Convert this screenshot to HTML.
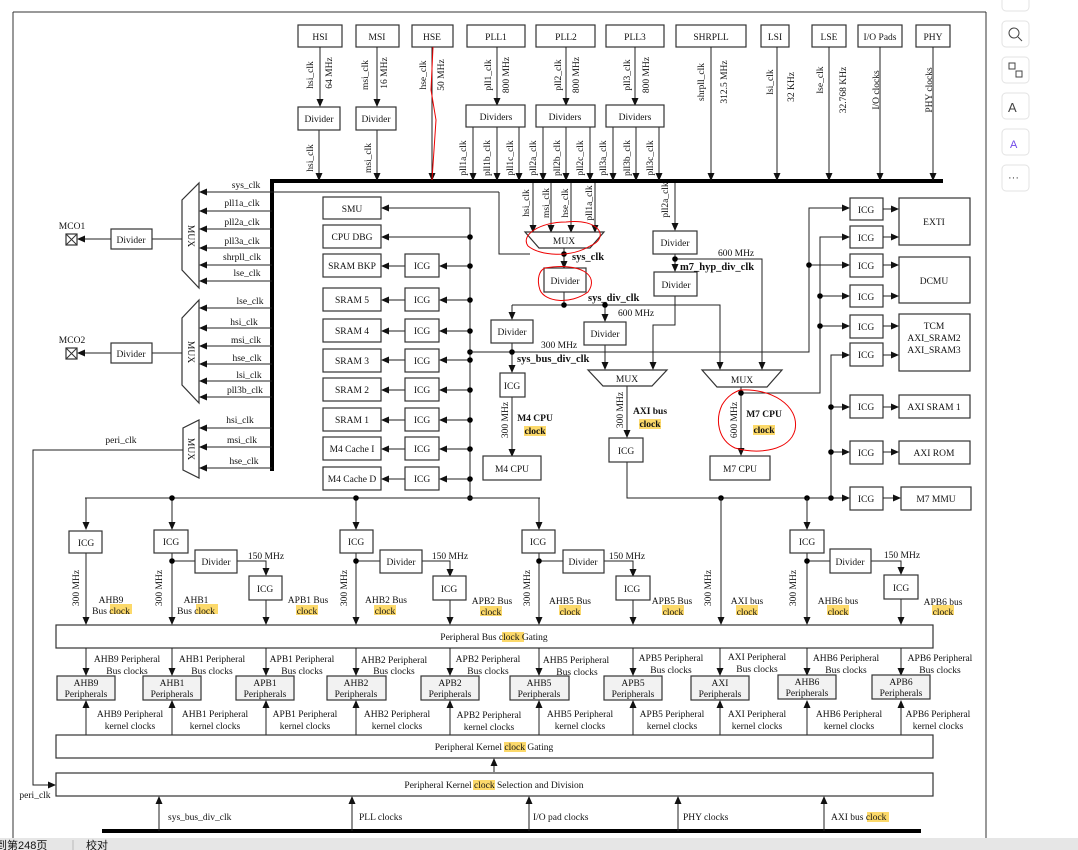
<!DOCTYPE html>
<html><head><meta charset="utf-8"><style>
html,body{margin:0;padding:0;background:#fff;}
svg{display:block;font-family:"Liberation Serif","Noto Serif CJK SC",serif;}
text{font-size:9.5px;fill:#111;}
.b{fill:#fff;stroke:#333;stroke-width:1.2;}
.g{fill:#f2f2f2;stroke:#333;stroke-width:1.2;}
.l{stroke:#222;stroke-width:1;fill:none;}
.t{stroke:#000;stroke-width:4;}
.hl{fill:#fcd96a;}
.bd{font-weight:bold;font-size:10.5px;}
.r{stroke:#e00;stroke-width:1;fill:none;}
</style></head><body>
<svg width="1078" height="850" viewBox="0 0 1078 850" xmlns="http://www.w3.org/2000/svg">
<defs>
<marker id="a" markerWidth="8" markerHeight="8" refX="7" refY="4" orient="auto" markerUnits="userSpaceOnUse"><path d="M0,0.5 L8,4 L0,7.5z" fill="#111"/></marker>
</defs>
<line x1="13" y1="12" x2="13" y2="838" stroke="#333"/>
<line x1="13" y1="12" x2="986" y2="12" stroke="#333"/>
<line x1="986" y1="12" x2="986" y2="838" stroke="#333"/>
<rect x="0" y="838" width="1078" height="12" fill="#e6e6e6"/>
<text x="-4" y="849" style="font-family:'Liberation Sans','Noto Sans CJK SC',sans-serif;font-size:11px">到第248页</text>
<line x1="73" y1="840" x2="73" y2="850" stroke="#bbb"/>
<text x="86" y="849" style="font-family:'Liberation Sans','Noto Sans CJK SC',sans-serif;font-size:11px">校对</text>
<g fill="#fff" stroke="#e3e3e3">
<rect x="1002" y="-8" width="27" height="19" rx="4"/><rect x="1002" y="21" width="27" height="26" rx="4"/><rect x="1002" y="57" width="27" height="26" rx="4"/><rect x="1002" y="93" width="27" height="26" rx="4"/><rect x="1002" y="129" width="27" height="26" rx="4"/><rect x="1002" y="165" width="27" height="26" rx="4"/></g>
<g stroke="#444" fill="none" stroke-width="1"><circle cx="1014" cy="33" r="5"/><line x1="1018" y1="37" x2="1022" y2="41"/><rect x="1009" y="63" width="6" height="6"/><rect x="1016" y="71" width="6" height="6"/></g>
<text x="1008" y="112" style="font-family:'Liberation Sans',sans-serif;font-size:13px;fill:#444">A</text>
<text x="1010" y="148" style="font-family:'Liberation Sans',sans-serif;font-size:11px;fill:#7048e8">A</text>
<text x="1008" y="181" style="font-family:'Liberation Sans',sans-serif;font-size:11px;fill:#444">···</text>

<line class="t" x1="270" y1="181" x2="943" y2="181"/>
<line class="t" x1="272" y1="179" x2="272" y2="471"/>
<line x1="102" y1="831" x2="921" y2="831" stroke="#000" stroke-width="4"/>

<g>
<rect class="b" x="298" y="25" width="44" height="22"/><text x="320" y="40" text-anchor="middle">HSI</text>
<rect class="b" x="356" y="25" width="43" height="22"/><text x="377" y="40" text-anchor="middle">MSI</text>
<rect class="b" x="412" y="25" width="41" height="22"/><text x="432" y="40" text-anchor="middle">HSE</text>
<rect class="b" x="467" y="25" width="58" height="22"/><text x="496" y="40" text-anchor="middle">PLL1</text>
<rect class="b" x="536" y="25" width="59" height="22"/><text x="566" y="40" text-anchor="middle">PLL2</text>
<rect class="b" x="606" y="25" width="58" height="22"/><text x="635" y="40" text-anchor="middle">PLL3</text>
<rect class="b" x="676" y="25" width="70" height="22"/><text x="711" y="40" text-anchor="middle">SHRPLL</text>
<rect class="b" x="761" y="25" width="28" height="22"/><text x="775" y="40" text-anchor="middle">LSI</text>
<rect class="b" x="812" y="25" width="34" height="22"/><text x="829" y="40" text-anchor="middle">LSE</text>
<rect class="b" x="858" y="25" width="44" height="22"/><text x="880" y="40" text-anchor="middle">I/O Pads</text>
<rect class="b" x="916" y="25" width="34" height="22"/><text x="933" y="40" text-anchor="middle">PHY</text>
</g>
<g class="l">
<line x1="320" y1="47" x2="320" y2="106" marker-end="url(#a)"/>
<line x1="377" y1="47" x2="377" y2="106" marker-end="url(#a)"/>
<line x1="432" y1="47" x2="432" y2="180" marker-end="url(#a)"/>
<line x1="497" y1="47" x2="497" y2="105" marker-end="url(#a)"/>
<line x1="566" y1="47" x2="566" y2="105" marker-end="url(#a)"/>
<line x1="635" y1="47" x2="635" y2="105" marker-end="url(#a)"/>
<line x1="711" y1="47" x2="711" y2="180" marker-end="url(#a)"/>
<line x1="777" y1="47" x2="777" y2="180" marker-end="url(#a)"/>
<line x1="829" y1="47" x2="829" y2="180" marker-end="url(#a)"/>
<line x1="880" y1="47" x2="880" y2="180" marker-end="url(#a)"/>
<line x1="933" y1="47" x2="933" y2="180" marker-end="url(#a)"/>
<line x1="319" y1="130" x2="319" y2="180" marker-end="url(#a)"/>
<line x1="377" y1="130" x2="377" y2="180" marker-end="url(#a)"/>
<line x1="473" y1="127" x2="473" y2="180" marker-end="url(#a)"/>
<line x1="497" y1="127" x2="497" y2="180" marker-end="url(#a)"/>
<line x1="519" y1="127" x2="519" y2="180" marker-end="url(#a)"/>
<line x1="543" y1="127" x2="543" y2="180" marker-end="url(#a)"/>
<line x1="566" y1="127" x2="566" y2="180" marker-end="url(#a)"/>
<line x1="590" y1="127" x2="590" y2="180" marker-end="url(#a)"/>
<line x1="613" y1="127" x2="613" y2="180" marker-end="url(#a)"/>
<line x1="636" y1="127" x2="636" y2="180" marker-end="url(#a)"/>
<line x1="659" y1="127" x2="659" y2="180" marker-end="url(#a)"/>
</g>
<rect class="b" x="298" y="107" width="42" height="23"/><text x="319" y="122" text-anchor="middle">Divider</text>
<rect class="b" x="356" y="107" width="40" height="23"/><text x="376" y="122" text-anchor="middle">Divider</text>
<rect class="b" x="466" y="105" width="59" height="22"/><text x="496" y="120" text-anchor="middle">Dividers</text>
<rect class="b" x="536" y="105" width="59" height="22"/><text x="565" y="120" text-anchor="middle">Dividers</text>
<rect class="b" x="606" y="105" width="58" height="22"/><text x="635" y="120" text-anchor="middle">Dividers</text>
<g style="font-size:9px">
<text transform="translate(313,75) rotate(-90)" text-anchor="middle">hsi_clk</text>
<text transform="translate(332,73) rotate(-90)" text-anchor="middle">64 MHz</text>
<text transform="translate(368,75) rotate(-90)" text-anchor="middle">msi_clk</text>
<text transform="translate(387,73) rotate(-90)" text-anchor="middle">16 MHz</text>
<text transform="translate(426,75) rotate(-90)" text-anchor="middle">hse_clk</text>
<text transform="translate(444,75) rotate(-90)" text-anchor="middle">50 MHz</text>
<text transform="translate(491,75) rotate(-90)" text-anchor="middle">pll1_clk</text>
<text transform="translate(509,75) rotate(-90)" text-anchor="middle">800 MHz</text>
<text transform="translate(561,75) rotate(-90)" text-anchor="middle">pll2_clk</text>
<text transform="translate(579,75) rotate(-90)" text-anchor="middle">800 MHz</text>
<text transform="translate(630,75) rotate(-90)" text-anchor="middle">pll3_clk</text>
<text transform="translate(649,75) rotate(-90)" text-anchor="middle">800 MHz</text>
<text transform="translate(704,82) rotate(-90)" text-anchor="middle">shrpll_clk</text>
<text transform="translate(727,82) rotate(-90)" text-anchor="middle">312.5 MHz</text>
<text transform="translate(773,82) rotate(-90)" text-anchor="middle">lsi_clk</text>
<text transform="translate(794,87) rotate(-90)" text-anchor="middle">32 KHz</text>
<text transform="translate(823,80) rotate(-90)" text-anchor="middle">lse_clk</text>
<text transform="translate(846,90) rotate(-90)" text-anchor="middle">32.768 KHz</text>
<text transform="translate(879,90) rotate(-90)" text-anchor="middle">I/O clocks</text>
<text transform="translate(932,90) rotate(-90)" text-anchor="middle">PHY clocks</text>
<text transform="translate(313,158) rotate(-90)" text-anchor="middle">hsi_clk</text>
<text transform="translate(371,158) rotate(-90)" text-anchor="middle">msi_clk</text>
<text transform="translate(466,158) rotate(-90)" text-anchor="middle">pll1a_clk</text>
<text transform="translate(490,158) rotate(-90)" text-anchor="middle">pll1b_clk</text>
<text transform="translate(513,158) rotate(-90)" text-anchor="middle">pll1c_clk</text>
<text transform="translate(536,158) rotate(-90)" text-anchor="middle">pll2a_clk</text>
<text transform="translate(560,158) rotate(-90)" text-anchor="middle">pll2b_clk</text>
<text transform="translate(583,158) rotate(-90)" text-anchor="middle">pll2c_clk</text>
<text transform="translate(606,158) rotate(-90)" text-anchor="middle">pll3a_clk</text>
<text transform="translate(630,158) rotate(-90)" text-anchor="middle">pll3b_clk</text>
<text transform="translate(653,158) rotate(-90)" text-anchor="middle">pll3c_clk</text>
<text transform="translate(529,203) rotate(-90)" text-anchor="middle">hsi_clk</text>
<text transform="translate(549,203) rotate(-90)" text-anchor="middle">msi_clk</text>
<text transform="translate(568,203) rotate(-90)" text-anchor="middle">hse_clk</text>
<text transform="translate(592,203) rotate(-90)" text-anchor="middle">pll1a_clk</text>
<text transform="translate(668,200) rotate(-90)" text-anchor="middle">pll2a_clk</text>
</g>

<path class="b" d="M199,183 L199,288 L182,270 L182,200 Z"/>
<text transform="translate(188,236) rotate(90)" text-anchor="middle">MUX</text>
<path class="b" d="M199,300 L199,403 L182,385 L182,318 Z"/>
<text transform="translate(188,352) rotate(90)" text-anchor="middle">MUX</text>
<path class="b" d="M199,420 L199,478 L183,470 L183,428 Z"/>
<text transform="translate(188,449) rotate(90)" text-anchor="middle">MUX</text>
<g class="l">
<line x1="499" y1="192" x2="200" y2="192" marker-end="url(#a)"/>
<line x1="272" y1="211" x2="200" y2="211" marker-end="url(#a)"/>
<line x1="272" y1="229" x2="200" y2="229" marker-end="url(#a)"/>
<line x1="272" y1="248" x2="200" y2="248" marker-end="url(#a)"/>
<line x1="272" y1="265" x2="200" y2="265" marker-end="url(#a)"/>
<line x1="272" y1="281" x2="200" y2="281" marker-end="url(#a)"/>
<line x1="272" y1="308" x2="200" y2="308" marker-end="url(#a)"/>
<line x1="272" y1="328" x2="200" y2="328" marker-end="url(#a)"/>
<line x1="272" y1="346" x2="200" y2="346" marker-end="url(#a)"/>
<line x1="272" y1="364" x2="200" y2="364" marker-end="url(#a)"/>
<line x1="272" y1="381" x2="200" y2="381" marker-end="url(#a)"/>
<line x1="272" y1="397" x2="200" y2="397" marker-end="url(#a)"/>
<line x1="272" y1="428" x2="200" y2="428" marker-end="url(#a)"/>
<line x1="272" y1="447" x2="200" y2="447" marker-end="url(#a)"/>
<line x1="272" y1="468" x2="200" y2="468" marker-end="url(#a)"/>
<line x1="182" y1="239" x2="152" y2="239"/>
<line x1="111" y1="239" x2="78" y2="239" marker-end="url(#a)"/>
<line x1="182" y1="353" x2="152" y2="353"/>
<line x1="111" y1="353" x2="78" y2="353" marker-end="url(#a)"/>
<polyline points="183,450 33,450 33,785 55,785" marker-end="url(#a)"/>
<polyline points="499,192 499,254 530,254"/>
</g>
<g style="font-size:9px">
<text x="246" y="188" text-anchor="middle">sys_clk</text>
<text x="242" y="206" text-anchor="middle">pll1a_clk</text>
<text x="242" y="225" text-anchor="middle">pll2a_clk</text>
<text x="242" y="244" text-anchor="middle">pll3a_clk</text>
<text x="242" y="260" text-anchor="middle">shrpll_clk</text>
<text x="247" y="276" text-anchor="middle">lse_clk</text>
<text x="250" y="304" text-anchor="middle">lse_clk</text>
<text x="244" y="325" text-anchor="middle">hsi_clk</text>
<text x="246" y="343" text-anchor="middle">msi_clk</text>
<text x="247" y="361" text-anchor="middle">hse_clk</text>
<text x="249" y="378" text-anchor="middle">lsi_clk</text>
<text x="245" y="393" text-anchor="middle">pll3b_clk</text>
<text x="240" y="423" text-anchor="middle">hsi_clk</text>
<text x="242" y="443" text-anchor="middle">msi_clk</text>
<text x="244" y="464" text-anchor="middle">hse_clk</text>
<text x="121" y="443" text-anchor="middle">peri_clk</text>
<text x="35" y="798" text-anchor="middle">peri_clk</text>
</g>
<rect class="b" x="111" y="229" width="41" height="20"/><text x="131" y="243" text-anchor="middle">Divider</text>
<rect class="b" x="111" y="343" width="41" height="20"/><text x="131" y="357" text-anchor="middle">Divider</text>
<rect class="b" x="66" y="234" width="11" height="11"/><path d="M66,234 L77,245 M77,234 L66,245" stroke="#333"/>
<rect class="b" x="66" y="348" width="11" height="11"/><path d="M66,348 L77,359 M77,348 L66,359" stroke="#333"/>
<text x="72" y="229" text-anchor="middle">MCO1</text>
<text x="72" y="343" text-anchor="middle">MCO2</text>

<g class="l">
<polyline points="470,498 470,208 382,208" marker-end="url(#a)"/>
<line x1="470" y1="237" x2="382" y2="237" marker-end="url(#a)"/>
</g>
<g>
<rect class="b" x="323" y="197" width="58" height="22"/><text x="352" y="212" text-anchor="middle">SMU</text>
<rect class="b" x="323" y="225" width="58" height="23"/><text x="352" y="240" text-anchor="middle">CPU DBG</text>
</g>
<g class="l">
<line x1="470" y1="266" x2="440" y2="266" marker-end="url(#a)"/><line x1="405" y1="266" x2="382" y2="266" marker-end="url(#a)"/>
<line x1="470" y1="300" x2="440" y2="300" marker-end="url(#a)"/><line x1="405" y1="300" x2="382" y2="300" marker-end="url(#a)"/>
<line x1="470" y1="331" x2="440" y2="331" marker-end="url(#a)"/><line x1="405" y1="331" x2="382" y2="331" marker-end="url(#a)"/>
<line x1="470" y1="360" x2="440" y2="360" marker-end="url(#a)"/><line x1="405" y1="360" x2="382" y2="360" marker-end="url(#a)"/>
<line x1="470" y1="390" x2="440" y2="390" marker-end="url(#a)"/><line x1="405" y1="390" x2="382" y2="390" marker-end="url(#a)"/>
<line x1="470" y1="420" x2="440" y2="420" marker-end="url(#a)"/><line x1="405" y1="420" x2="382" y2="420" marker-end="url(#a)"/>
<line x1="470" y1="449" x2="440" y2="449" marker-end="url(#a)"/><line x1="405" y1="449" x2="382" y2="449" marker-end="url(#a)"/>
<line x1="470" y1="479" x2="440" y2="479" marker-end="url(#a)"/><line x1="405" y1="479" x2="382" y2="479" marker-end="url(#a)"/>
</g>
<g fill="#000"><circle cx="470" cy="237" r="2.8"/><circle cx="470" cy="266" r="2.8"/><circle cx="470" cy="300" r="2.8"/><circle cx="470" cy="331" r="2.8"/><circle cx="470" cy="352" r="2.8"/><circle cx="470" cy="360" r="2.8"/><circle cx="470" cy="390" r="2.8"/><circle cx="470" cy="420" r="2.8"/><circle cx="470" cy="449" r="2.8"/><circle cx="470" cy="479" r="2.8"/><circle cx="470" cy="498" r="2.8"/></g>
<g>
<rect class="b" x="323" y="254" width="58" height="23"/><text x="352" y="269" text-anchor="middle">SRAM BKP</text>
<rect class="b" x="323" y="288" width="58" height="23"/><text x="352" y="303" text-anchor="middle">SRAM 5</text>
<rect class="b" x="323" y="319" width="58" height="23"/><text x="352" y="334" text-anchor="middle">SRAM 4</text>
<rect class="b" x="323" y="349" width="58" height="23"/><text x="352" y="364" text-anchor="middle">SRAM 3</text>
<rect class="b" x="323" y="378" width="58" height="23"/><text x="352" y="393" text-anchor="middle">SRAM 2</text>
<rect class="b" x="323" y="408" width="58" height="23"/><text x="352" y="423" text-anchor="middle">SRAM 1</text>
<rect class="b" x="323" y="437" width="58" height="23"/><text x="352" y="452" text-anchor="middle">M4 Cache I</text>
<rect class="b" x="323" y="467" width="58" height="23"/><text x="352" y="482" text-anchor="middle">M4 Cache D</text>
<rect class="b" x="405" y="254" width="34" height="23"/><text x="422" y="269" text-anchor="middle">ICG</text>
<rect class="b" x="405" y="288" width="34" height="23"/><text x="422" y="303" text-anchor="middle">ICG</text>
<rect class="b" x="405" y="319" width="34" height="23"/><text x="422" y="334" text-anchor="middle">ICG</text>
<rect class="b" x="405" y="349" width="34" height="23"/><text x="422" y="364" text-anchor="middle">ICG</text>
<rect class="b" x="405" y="378" width="34" height="23"/><text x="422" y="393" text-anchor="middle">ICG</text>
<rect class="b" x="405" y="408" width="34" height="23"/><text x="422" y="423" text-anchor="middle">ICG</text>
<rect class="b" x="405" y="437" width="34" height="23"/><text x="422" y="452" text-anchor="middle">ICG</text>
<rect class="b" x="405" y="467" width="34" height="23"/><text x="422" y="482" text-anchor="middle">ICG</text>
</g>

<g class="l">
<line x1="533" y1="183" x2="533" y2="232" marker-end="url(#a)"/>
<line x1="551" y1="183" x2="551" y2="232" marker-end="url(#a)"/>
<line x1="571" y1="183" x2="571" y2="232" marker-end="url(#a)"/>
<line x1="595" y1="183" x2="595" y2="232" marker-end="url(#a)"/>
<line x1="564" y1="248" x2="564" y2="268" marker-end="url(#a)"/>
<line x1="564" y1="292" x2="564" y2="305"/>
<polyline points="512,305 720,305 720,369" marker-end="url(#a)"/>
<line x1="512" y1="305" x2="512" y2="319" marker-end="url(#a)"/>
<line x1="605" y1="305" x2="605" y2="321" marker-end="url(#a)"/>
<line x1="512" y1="343" x2="512" y2="372" marker-end="url(#a)"/>
<line x1="512" y1="397" x2="512" y2="456" marker-end="url(#a)"/>
<line x1="605" y1="345" x2="605" y2="369" marker-end="url(#a)"/>
<line x1="675" y1="183" x2="675" y2="230" marker-end="url(#a)"/>
<line x1="675" y1="254" x2="675" y2="271" marker-end="url(#a)"/>
<polyline points="675,259 762,259 762,369" marker-end="url(#a)"/>
<polyline points="675,296 675,325 653,325 653,369" marker-end="url(#a)"/>
<line x1="627" y1="386" x2="627" y2="437" marker-end="url(#a)"/>
<polyline points="627,462 627,498 831,498"/>
<line x1="741" y1="387" x2="741" y2="455" marker-end="url(#a)"/>
<polyline points="741,393 820,393 820,237 849,237" marker-end="url(#a)"/>
<polyline points="470,352 809,352 809,208 849,208" marker-end="url(#a)"/>
<line x1="809" y1="265" x2="849" y2="265" marker-end="url(#a)"/>
<line x1="820" y1="296" x2="849" y2="296" marker-end="url(#a)"/>
<line x1="820" y1="326" x2="849" y2="326" marker-end="url(#a)"/>
<polyline points="831,498 831,355 849,355" marker-end="url(#a)"/>
<line x1="831" y1="407" x2="849" y2="407" marker-end="url(#a)"/>
<line x1="831" y1="452" x2="849" y2="452" marker-end="url(#a)"/>
<line x1="831" y1="498" x2="849" y2="498" marker-end="url(#a)"/>
</g>
<g fill="#000"><circle cx="564" cy="254" r="2.8"/><circle cx="564" cy="305" r="2.8"/><circle cx="605" cy="305" r="2.8"/><circle cx="512" cy="352" r="2.8"/><circle cx="675" cy="259" r="2.8"/><circle cx="741" cy="393" r="2.8"/><circle cx="809" cy="265" r="2.8"/><circle cx="820" cy="296" r="2.8"/><circle cx="820" cy="326" r="2.8"/><circle cx="831" cy="407" r="2.8"/><circle cx="831" cy="452" r="2.8"/><circle cx="831" cy="498" r="2.8"/><circle cx="807" cy="498" r="2.8"/><circle cx="721" cy="498" r="2.8"/></g>
<path class="b" d="M525,232 L604,232 L590,248 L539,248 Z"/><text x="564" y="244" text-anchor="middle">MUX</text>
<path class="b" d="M588,370 L667,370 L652,386 L603,386 Z"/><text x="627" y="382" text-anchor="middle">MUX</text>
<path class="b" d="M702,370 L782,370 L767,387 L717,387 Z"/><text x="742" y="383" text-anchor="middle">MUX</text>
<rect class="b" x="544" y="268" width="42" height="24"/><text x="565" y="284" text-anchor="middle">Divider</text>
<rect class="b" x="491" y="320" width="42" height="23"/><text x="512" y="335" text-anchor="middle">Divider</text>
<rect class="b" x="584" y="322" width="42" height="23"/><text x="605" y="337" text-anchor="middle">Divider</text>
<rect class="b" x="653" y="231" width="44" height="23"/><text x="675" y="246" text-anchor="middle">Divider</text>
<rect class="b" x="654" y="272" width="43" height="24"/><text x="676" y="288" text-anchor="middle">Divider</text>
<rect class="b" x="500" y="373" width="25" height="24"/><text x="512" y="389" text-anchor="middle">ICG</text>
<rect class="b" x="609" y="438" width="34" height="24"/><text x="626" y="454" text-anchor="middle">ICG</text>
<rect class="b" x="483" y="456" width="58" height="24"/><text x="512" y="472" text-anchor="middle">M4 CPU</text>
<rect class="b" x="710" y="456" width="60" height="24"/><text x="740" y="472" text-anchor="middle">M7 CPU</text>
<text class="bd" x="572" y="260">sys_clk</text>
<text class="bd" x="588" y="301">sys_div_clk</text>
<text class="bd" x="517" y="362">sys_bus_div_clk</text>
<text class="bd" x="680" y="270">m7_hyp_div_clk</text>
<text x="618" y="316">600 MHz</text>
<text x="718" y="256">600 MHz</text>
<text x="541" y="348">300 MHz</text>
<text transform="translate(508,420) rotate(-90)" text-anchor="middle">300 MHz</text>
<text transform="translate(623,410) rotate(-90)" text-anchor="middle">300 MHz</text>
<text transform="translate(737,420) rotate(-90)" text-anchor="middle">600 MHz</text>
<rect class="hl" x="524" y="426" width="22" height="10"/>
<rect class="hl" x="639" y="419" width="22" height="10"/>
<rect class="hl" x="753" y="425" width="22" height="10"/>
<g class="bd" style="font-size:9.5px">
<text x="535" y="421" text-anchor="middle">M4 CPU</text><text x="535" y="434" text-anchor="middle">clock</text>
<text x="650" y="414" text-anchor="middle">AXI bus</text><text x="650" y="427" text-anchor="middle">clock</text>
<text x="764" y="417" text-anchor="middle">M7 CPU</text><text x="764" y="433" text-anchor="middle">clock</text>
</g>

<g>
<rect class="b" x="850" y="198" width="33" height="22"/><text x="866" y="213" text-anchor="middle">ICG</text>
<rect class="b" x="850" y="226" width="33" height="22"/><text x="866" y="241" text-anchor="middle">ICG</text>
<rect class="b" x="850" y="254" width="33" height="23"/><text x="866" y="269" text-anchor="middle">ICG</text>
<rect class="b" x="850" y="285" width="33" height="22"/><text x="866" y="300" text-anchor="middle">ICG</text>
<rect class="b" x="850" y="315" width="33" height="23"/><text x="866" y="330" text-anchor="middle">ICG</text>
<rect class="b" x="850" y="343" width="33" height="23"/><text x="866" y="358" text-anchor="middle">ICG</text>
<rect class="b" x="850" y="395" width="33" height="23"/><text x="866" y="410" text-anchor="middle">ICG</text>
<rect class="b" x="850" y="441" width="33" height="23"/><text x="866" y="456" text-anchor="middle">ICG</text>
<rect class="b" x="850" y="487" width="33" height="23"/><text x="866" y="502" text-anchor="middle">ICG</text>
<rect class="b" x="899" y="198" width="71" height="47"/><text x="934" y="225" text-anchor="middle">EXTI</text>
<rect class="b" x="899" y="257" width="71" height="46"/><text x="934" y="284" text-anchor="middle">DCMU</text>
<rect class="b" x="899" y="314" width="71" height="57"/><text x="934" y="329" text-anchor="middle">TCM</text><text x="934" y="341" text-anchor="middle">AXI_SRAM2</text><text x="934" y="353" text-anchor="middle">AXI_SRAM3</text>
<rect class="b" x="899" y="395" width="71" height="23"/><text x="934" y="410" text-anchor="middle">AXI SRAM 1</text>
<rect class="b" x="899" y="441" width="71" height="23"/><text x="934" y="456" text-anchor="middle">AXI ROM</text>
<rect class="b" x="901" y="487" width="70" height="23"/><text x="936" y="502" text-anchor="middle">M7 MMU</text>
</g>
<g class="l">
<line x1="883" y1="209" x2="898" y2="209" marker-end="url(#a)"/>
<line x1="883" y1="237" x2="898" y2="237" marker-end="url(#a)"/>
<line x1="883" y1="265" x2="898" y2="265" marker-end="url(#a)"/>
<line x1="883" y1="296" x2="898" y2="296" marker-end="url(#a)"/>
<line x1="883" y1="326" x2="898" y2="326" marker-end="url(#a)"/>
<line x1="883" y1="355" x2="898" y2="355" marker-end="url(#a)"/>
<line x1="883" y1="407" x2="898" y2="407" marker-end="url(#a)"/>
<line x1="883" y1="452" x2="898" y2="452" marker-end="url(#a)"/>
<line x1="883" y1="498" x2="900" y2="498" marker-end="url(#a)"/>
</g>

<g class="l">
<line x1="85" y1="498" x2="540" y2="498"/>
<line x1="86" y1="498" x2="86" y2="529" marker-end="url(#a)"/>
<line x1="172" y1="498" x2="172" y2="529" marker-end="url(#a)"/>
<line x1="356" y1="498" x2="356" y2="529" marker-end="url(#a)"/>
<line x1="539" y1="498" x2="539" y2="529" marker-end="url(#a)"/>
<line x1="807" y1="498" x2="807" y2="529" marker-end="url(#a)"/>
<line x1="86" y1="553" x2="86" y2="624" marker-end="url(#a)"/>
<line x1="172" y1="553" x2="172" y2="624" marker-end="url(#a)"/>
<line x1="356" y1="553" x2="356" y2="624" marker-end="url(#a)"/>
<line x1="539" y1="553" x2="539" y2="624" marker-end="url(#a)"/>
<line x1="807" y1="553" x2="807" y2="624" marker-end="url(#a)"/>
<line x1="721" y1="498" x2="721" y2="624" marker-end="url(#a)"/>
<line x1="172" y1="561" x2="195" y2="561"/><polyline points="237,561 266,561 266,575" marker-end="url(#a)"/>
<line x1="356" y1="561" x2="380" y2="561"/><polyline points="422,561 450,561 450,576" marker-end="url(#a)"/>
<line x1="539" y1="561" x2="563" y2="561"/><polyline points="603,561 633,561 633,576" marker-end="url(#a)"/>
<line x1="807" y1="561" x2="830" y2="561"/><polyline points="871,561 901,561 901,574" marker-end="url(#a)"/>
<line x1="266" y1="600" x2="266" y2="624" marker-end="url(#a)"/>
<line x1="450" y1="600" x2="450" y2="624" marker-end="url(#a)"/>
<line x1="633" y1="600" x2="633" y2="624" marker-end="url(#a)"/>
<line x1="901" y1="599" x2="901" y2="624" marker-end="url(#a)"/>
</g>
<g fill="#000"><circle cx="172" cy="498" r="2.8"/><circle cx="356" cy="498" r="2.8"/><circle cx="172" cy="561" r="2.8"/><circle cx="356" cy="561" r="2.8"/><circle cx="539" cy="561" r="2.8"/><circle cx="807" cy="561" r="2.8"/></g>
<g>
<rect class="b" x="69" y="531" width="33" height="22"/><text x="86" y="546" text-anchor="middle">ICG</text>
<rect class="b" x="154" y="530" width="34" height="23"/><text x="171" y="545" text-anchor="middle">ICG</text>
<rect class="b" x="340" y="530" width="33" height="23"/><text x="356" y="545" text-anchor="middle">ICG</text>
<rect class="b" x="522" y="530" width="33" height="23"/><text x="538" y="545" text-anchor="middle">ICG</text>
<rect class="b" x="790" y="530" width="34" height="23"/><text x="807" y="545" text-anchor="middle">ICG</text>
<rect class="b" x="249" y="576" width="33" height="24"/><text x="265" y="592" text-anchor="middle">ICG</text>
<rect class="b" x="433" y="576" width="33" height="24"/><text x="449" y="592" text-anchor="middle">ICG</text>
<rect class="b" x="616" y="576" width="34" height="24"/><text x="632" y="592" text-anchor="middle">ICG</text>
<rect class="b" x="884" y="575" width="34" height="24"/><text x="901" y="591" text-anchor="middle">ICG</text>
<rect class="b" x="195" y="550" width="42" height="23"/><text x="216" y="565" text-anchor="middle">Divider</text>
<rect class="b" x="380" y="550" width="42" height="23"/><text x="401" y="565" text-anchor="middle">Divider</text>
<rect class="b" x="563" y="550" width="41" height="23"/><text x="583" y="565" text-anchor="middle">Divider</text>
<rect class="b" x="830" y="549" width="41" height="24"/><text x="850" y="565" text-anchor="middle">Divider</text>
</g>
<g>
<text x="266" y="559" text-anchor="middle">150 MHz</text>
<text x="450" y="559" text-anchor="middle">150 MHz</text>
<text x="627" y="559" text-anchor="middle">150 MHz</text>
<text x="902" y="558" text-anchor="middle">150 MHz</text>
<text transform="translate(79,588) rotate(-90)" text-anchor="middle">300 MHz</text>
<text transform="translate(162,588) rotate(-90)" text-anchor="middle">300 MHz</text>
<text transform="translate(347,588) rotate(-90)" text-anchor="middle">300 MHz</text>
<text transform="translate(530,588) rotate(-90)" text-anchor="middle">300 MHz</text>
<text transform="translate(711,588) rotate(-90)" text-anchor="middle">300 MHz</text>
<text transform="translate(796,588) rotate(-90)" text-anchor="middle">300 MHz</text>
</g>
<g class="hl">
<rect x="110" y="604" width="22" height="10"/><rect x="196" y="604" width="22" height="10"/>
<rect x="296" y="605" width="22" height="10"/><rect x="374" y="605" width="22" height="10"/>
<rect x="480" y="606" width="22" height="10"/><rect x="559" y="605" width="22" height="10"/>
<rect x="662" y="605" width="22" height="10"/><rect x="736" y="605" width="22" height="10"/>
<rect x="827" y="605" width="22" height="10"/><rect x="932" y="605" width="22" height="10"/>
</g>
<g>
<text x="111" y="603" text-anchor="middle">AHB9</text><text x="111" y="614" text-anchor="middle">Bus clock</text>
<text x="196" y="603" text-anchor="middle">AHB1</text><text x="196" y="614" text-anchor="middle">Bus clock</text>
<text x="308" y="603" text-anchor="middle">APB1 Bus</text><text x="307" y="614" text-anchor="middle">clock</text>
<text x="386" y="603" text-anchor="middle">AHB2 Bus</text><text x="385" y="614" text-anchor="middle">clock</text>
<text x="492" y="604" text-anchor="middle">APB2 Bus</text><text x="491" y="615" text-anchor="middle">clock</text>
<text x="570" y="604" text-anchor="middle">AHB5 Bus</text><text x="570" y="615" text-anchor="middle">clock</text>
<text x="672" y="604" text-anchor="middle">APB5 Bus</text><text x="673" y="615" text-anchor="middle">clock</text>
<text x="747" y="604" text-anchor="middle">AXI bus</text><text x="747" y="615" text-anchor="middle">clock</text>
<text x="838" y="604" text-anchor="middle">AHB6 bus</text><text x="838" y="615" text-anchor="middle">clock</text>
<text x="943" y="605" text-anchor="middle">APB6 bus</text><text x="943" y="615" text-anchor="middle">clock</text>
</g>
<rect class="b" x="56" y="625" width="877" height="23"/>
<rect class="hl" x="502" y="632" width="22" height="10"/>
<text x="494" y="640" text-anchor="middle">Peripheral Bus clock Gating</text>

<g class="l">
<line x1="86" y1="648" x2="86" y2="675" marker-end="url(#a)"/>
<line x1="172" y1="648" x2="172" y2="675" marker-end="url(#a)"/>
<line x1="266" y1="648" x2="266" y2="675" marker-end="url(#a)"/>
<line x1="356" y1="648" x2="356" y2="675" marker-end="url(#a)"/>
<line x1="450" y1="648" x2="450" y2="675" marker-end="url(#a)"/>
<line x1="539" y1="648" x2="539" y2="675" marker-end="url(#a)"/>
<line x1="633" y1="648" x2="633" y2="675" marker-end="url(#a)"/>
<line x1="720" y1="648" x2="720" y2="675" marker-end="url(#a)"/>
<line x1="807" y1="648" x2="807" y2="675" marker-end="url(#a)"/>
<line x1="901" y1="648" x2="901" y2="675" marker-end="url(#a)"/>
<line x1="86" y1="735" x2="86" y2="701" marker-end="url(#a)"/>
<line x1="172" y1="735" x2="172" y2="701" marker-end="url(#a)"/>
<line x1="266" y1="735" x2="266" y2="701" marker-end="url(#a)"/>
<line x1="356" y1="735" x2="356" y2="701" marker-end="url(#a)"/>
<line x1="450" y1="735" x2="450" y2="701" marker-end="url(#a)"/>
<line x1="539" y1="735" x2="539" y2="701" marker-end="url(#a)"/>
<line x1="633" y1="735" x2="633" y2="701" marker-end="url(#a)"/>
<line x1="720" y1="735" x2="720" y2="701" marker-end="url(#a)"/>
<line x1="807" y1="735" x2="807" y2="701" marker-end="url(#a)"/>
<line x1="901" y1="735" x2="901" y2="701" marker-end="url(#a)"/>
<line x1="494" y1="772" x2="494" y2="759" marker-end="url(#a)"/>
<line x1="159" y1="831" x2="159" y2="797" marker-end="url(#a)"/>
<line x1="352" y1="831" x2="352" y2="797" marker-end="url(#a)"/>
<line x1="529" y1="831" x2="529" y2="797" marker-end="url(#a)"/>
<line x1="678" y1="831" x2="678" y2="797" marker-end="url(#a)"/>
<line x1="824" y1="831" x2="824" y2="797" marker-end="url(#a)"/>
</g>
<g>
<rect class="g" x="57" y="676" width="58" height="24"/><text x="86" y="686" text-anchor="middle">AHB9</text><text x="86" y="697" text-anchor="middle">Peripherals</text>
<rect class="g" x="143" y="676" width="58" height="24"/><text x="172" y="686" text-anchor="middle">AHB1</text><text x="172" y="697" text-anchor="middle">Peripherals</text>
<rect class="g" x="236" y="676" width="58" height="24"/><text x="265" y="686" text-anchor="middle">APB1</text><text x="265" y="697" text-anchor="middle">Peripherals</text>
<rect class="g" x="327" y="676" width="59" height="24"/><text x="356" y="686" text-anchor="middle">AHB2</text><text x="356" y="697" text-anchor="middle">Peripherals</text>
<rect class="g" x="421" y="676" width="58" height="24"/><text x="450" y="686" text-anchor="middle">APB2</text><text x="450" y="697" text-anchor="middle">Peripherals</text>
<rect class="g" x="510" y="676" width="59" height="24"/><text x="539" y="686" text-anchor="middle">AHB5</text><text x="539" y="697" text-anchor="middle">Peripherals</text>
<rect class="g" x="604" y="676" width="58" height="24"/><text x="633" y="686" text-anchor="middle">APB5</text><text x="633" y="697" text-anchor="middle">Peripherals</text>
<rect class="g" x="691" y="676" width="58" height="24"/><text x="720" y="686" text-anchor="middle">AXI</text><text x="720" y="697" text-anchor="middle">Peripherals</text>
<rect class="g" x="778" y="675" width="58" height="24"/><text x="807" y="685" text-anchor="middle">AHB6</text><text x="807" y="696" text-anchor="middle">Peripherals</text>
<rect class="g" x="872" y="675" width="58" height="24"/><text x="901" y="685" text-anchor="middle">APB6</text><text x="901" y="696" text-anchor="middle">Peripherals</text>
</g>
<g>
<text x="127" y="662" text-anchor="middle">AHB9 Peripheral</text><text x="127" y="674" text-anchor="middle">Bus clocks</text>
<text x="212" y="662" text-anchor="middle">AHB1 Peripheral</text><text x="212" y="674" text-anchor="middle">Bus clocks</text>
<text x="302" y="662" text-anchor="middle">APB1 Peripheral</text><text x="302" y="674" text-anchor="middle">Bus clocks</text>
<text x="394" y="663" text-anchor="middle">AHB2 Peripheral</text><text x="394" y="674" text-anchor="middle">Bus clocks</text>
<text x="488" y="662" text-anchor="middle">APB2 Peripheral</text><text x="488" y="674" text-anchor="middle">Bus clocks</text>
<text x="576" y="663" text-anchor="middle">AHB5 Peripheral</text><text x="577" y="675" text-anchor="middle">Bus clocks</text>
<text x="671" y="661" text-anchor="middle">APB5 Peripheral</text><text x="671" y="673" text-anchor="middle">Bus clocks</text>
<text x="757" y="660" text-anchor="middle">AXI Peripheral</text><text x="757" y="672" text-anchor="middle">Bus clocks</text>
<text x="846" y="661" text-anchor="middle">AHB6 Peripheral</text><text x="846" y="673" text-anchor="middle">Bus clocks</text>
<text x="940" y="661" text-anchor="middle">APB6 Peripheral</text><text x="940" y="673" text-anchor="middle">Bus clocks</text>
<text x="130" y="717" text-anchor="middle">AHB9 Peripheral</text><text x="130" y="729" text-anchor="middle">kernel clocks</text>
<text x="215" y="717" text-anchor="middle">AHB1 Peripheral</text><text x="215" y="729" text-anchor="middle">kernel clocks</text>
<text x="305" y="717" text-anchor="middle">APB1 Peripheral</text><text x="305" y="729" text-anchor="middle">kernel clocks</text>
<text x="397" y="717" text-anchor="middle">AHB2 Peripheral</text><text x="397" y="729" text-anchor="middle">kernel clocks</text>
<text x="489" y="718" text-anchor="middle">APB2 Peripheral</text><text x="489" y="730" text-anchor="middle">kernel clocks</text>
<text x="580" y="717" text-anchor="middle">AHB5 Peripheral</text><text x="580" y="729" text-anchor="middle">kernel clocks</text>
<text x="672" y="717" text-anchor="middle">APB5 Peripheral</text><text x="672" y="729" text-anchor="middle">kernel clocks</text>
<text x="757" y="717" text-anchor="middle">AXI Peripheral</text><text x="757" y="729" text-anchor="middle">kernel clocks</text>
<text x="849" y="717" text-anchor="middle">AHB6 Peripheral</text><text x="849" y="729" text-anchor="middle">kernel clocks</text>
<text x="938" y="717" text-anchor="middle">APB6 Peripheral</text><text x="938" y="729" text-anchor="middle">kernel clocks</text>
</g>
<rect class="b" x="56" y="735" width="877" height="23"/>
<rect class="hl" x="504" y="742" width="22" height="10"/>
<text x="494" y="750" text-anchor="middle">Peripheral Kernel clock Gating</text>
<rect class="b" x="56" y="773" width="877" height="23"/>
<rect class="hl" x="473" y="780" width="22" height="10"/>
<text x="494" y="788" text-anchor="middle">Peripheral Kernel clock Selection and Division</text>
<rect class="hl" x="867" y="812" width="22" height="10"/>
<text x="168" y="820">sys_bus_div_clk</text>
<text x="359" y="820">PLL clocks</text>
<text x="533" y="820">I/O pad clocks</text>
<text x="683" y="820">PHY clocks</text>
<text x="831" y="820">AXI bus clock</text>

<path class="r" d="M433,47 L431,90 L436,120 L432,180"/>
<path class="r" d="M566,222 C600,218 610,238 590,246 C570,258 540,256 528,246 C520,235 540,222 566,222"/>
<path class="r" d="M545,268 C580,262 600,275 588,292 C570,305 545,302 540,290 C536,278 540,270 545,268"/>
<path class="r" d="M740,390 C770,388 800,405 795,430 C790,450 760,455 735,448 C718,440 715,420 722,405 C728,395 735,392 740,390"/>
</svg>
</body></html>
